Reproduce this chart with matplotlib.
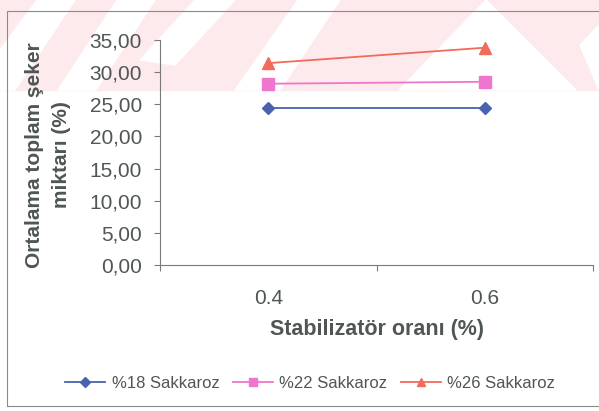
import numpy as np
import matplotlib.pyplot as plt
from matplotlib.patches import Rectangle, Polygon

plt.rcParams['font.family'] = ['Liberation Sans', 'DejaVu Sans']

categories = ["0.4", "0.6"]
series_names = ["%18 Sakkaroz", "%22 Sakkaroz", "%26 Sakkaroz"]
sak18 = [24.4, 24.4]
sak22 = [28.2, 28.5]
sak26 = [31.4, 33.8]

colors = ["#4a62b0", "#ee76cc", "#f06b5c"]
markers = ["D", "s", "^"]
msizes = [6, 8, 8]
txt = "#4f5655"

W, H = 599, 411
fig = plt.figure(figsize=(W / 100, H / 100), dpi=100)


def px(x, y):
    return x / W, 1 - y / H


# faint watermark band at the top of the scan
fig.patches.append(Rectangle(px(0, 90), 1, 90 / H, transform=fig.transFigure,
                             color="#fdeaec", zorder=-3))
stripes = [[(0, 50), (37, 0), (75, 0), (15, 90), (0, 90)],
           [(58, 90), (117, 0), (155, 0), (96, 90)],
           [(140, 60), (195, 0), (235, 0), (175, 65)],
           [(235, 90), (298, 0), (340, 0), (280, 90)],
           [(399, 90), (486, 0), (576, 90)],
           [(580, 45), (599, 25), (599, 90)]]
for s in stripes:
    fig.patches.append(Polygon([px(x, y) for x, y in s], closed=True,
                               transform=fig.transFigure, color="white",
                               zorder=-2))

# outer border of the chart area
fig.patches.append(Rectangle(px(7, 406), 1.0, (406 - 11) / H,
                             transform=fig.transFigure, fill=False,
                             edgecolor="#8a8a8a", linewidth=0.8, zorder=-1))

ax = fig.add_axes([160 / W, 1 - 265 / H, (593 - 160) / W, (265 - 40) / H])
ax.patch.set_alpha(0)

x = np.arange(len(categories))
for vals, name, c, m, ms in zip([sak18, sak22, sak26], series_names, colors,
                                markers, msizes):
    ax.plot(x, vals, color=c, marker=m, markersize=ms, linewidth=1.3,
            label=name)

ax.set_xlim(-0.5, len(categories) - 0.5)
ax.set_ylim(0, 35)
ax.set_yticks(np.arange(0, 36, 5))
ax.set_yticklabels([f"{v:.2f}".replace(".", ",") for v in np.arange(0, 36, 5)])
ax.set_xticks(x)
ax.set_xticklabels(categories)
ax.set_xticks(np.arange(-0.5, len(categories)), minor=True)

for side in ["top", "right"]:
    ax.spines[side].set_visible(False)
for side in ["left", "bottom"]:
    ax.spines[side].set_color("#7a7a7a")
    ax.spines[side].set_linewidth(0.8)

ax.tick_params(axis="y", length=4, width=0.8, color="#7a7a7a", pad=9,
               labelsize=15, labelcolor=txt)
ax.tick_params(axis="x", which="major", length=0, pad=17, labelsize=15,
               labelcolor=txt)
ax.tick_params(axis="x", which="minor", length=4, width=0.8,
               color="#7a7a7a")

ax.set_xlabel("Stabilizatör oranı (%)", fontsize=15.5, fontweight="bold",
              color=txt, labelpad=8)
fig.text(48 / W, 1 - 155 / H, "Ortalama toplam şeker\nmiktarı (%)",
         rotation=90, ha="center", va="center", multialignment="center",
         fontsize=15, fontweight="bold", color=txt, linespacing=1.5)

fig.legend(loc="center", bbox_to_anchor=px(310, 383), ncol=3, frameon=False,
           fontsize=12, labelcolor=txt, handlelength=2.4, columnspacing=0.8,
           handletextpad=0.4, markerscale=0.8)

fig.savefig("out.png", dpi=100)
